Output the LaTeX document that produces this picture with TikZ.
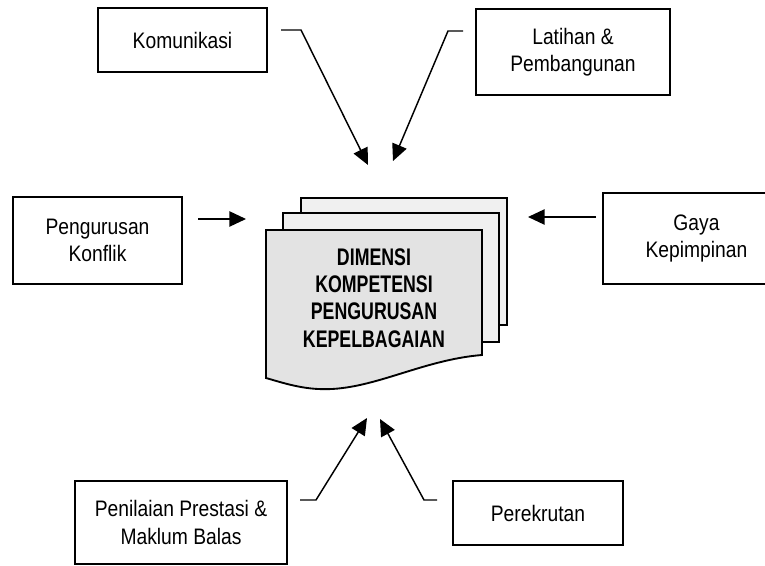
\documentclass[tikz,border=0pt]{standalone}
\usepackage{fontspec}
\setmainfont{Liberation Sans}
\newfontfamily\narrowfont[FakeStretch=0.86]{Liberation Sans}
\newfontfamily\mainnarrow[FakeStretch=0.74]{Liberation Sans}
\usetikzlibrary{arrows.meta}
\begin{document}
\begin{tikzpicture}[x=0.75pt,y=-0.75pt,
  box/.style={draw, line width=1.3pt, rectangle, inner sep=0pt, align=center,
              font=\narrowfont\fontsize{16.8}{20.3}\selectfont},
  conn/.style={line width=1.1pt, -{Triangle[length=12.5pt,width=11.5pt]}},
  backsheet/.style={draw, line width=1.4pt, fill=gray!12},
  frontsheet/.style={draw, line width=1.4pt, fill=gray!22},
  maintext/.style={align=center, inner sep=0pt,
              font=\mainnarrow\bfseries\fontsize{18}{20.5}\selectfont}]
\useasboundingbox (0,0) rectangle (765,566);
\clip (0,0) rectangle (765,566);

% boxes
\node[box, minimum width=126.75pt, minimum height=48pt] (kom) at (182.5,40) {Komunikasi};
\node[box, minimum width=145.5pt, minimum height=64.5pt] (lat) at (573,52) {Latihan \&\\Pembangunan};
\node[box, minimum width=126.75pt, minimum height=65.25pt] (kon) at (97.5,240.5) {Pengurusan\\Konflik};
\node[box, minimum width=140.25pt, minimum height=68.25pt] (gay) at (696.5,238.5) {Gaya\\Kepimpinan};
\node[box, minimum width=159pt, minimum height=62.25pt] (pen) at (181,522.5) {Penilaian Prestasi \&\\Maklum Balas};
\node[box, minimum width=127.5pt, minimum height=48pt] (per) at (538,513) {Perekrutan};

% document stack
\path[backsheet] (301,198) rectangle (507,325);
\path[backsheet] (283,213) rectangle (499,342);
\path[frontsheet] (266,230) -- (482,230) -- (482,355)
   .. controls (420,360) and (370,392) .. (318,389)
   .. controls (298,388) and (280,382) .. (266,378) -- cycle;
\node[maintext] (dim) at (374,298) {DIMENSI\\KOMPETENSI\\PENGURUSAN\\KEPELBAGAIAN};

% connector end points
\coordinate (a1) at (281,30);  \coordinate (a1b) at (301,30);  \coordinate (a1t) at (368,165);
\coordinate (a2) at (463,31);  \coordinate (a2b) at (448,31);  \coordinate (a2t) at (393,161);
\coordinate (a3) at (198,219); \coordinate (a3t) at (246,219);
\coordinate (a4) at (596,217); \coordinate (a4t) at (528,217);
\coordinate (a5) at (300,500); \coordinate (a5b) at (316,500); \coordinate (a5t) at (367,418);
\coordinate (a6) at (437,500); \coordinate (a6b) at (424,500); \coordinate (a6t) at (380,419);

\draw[conn] (a1) -- (a1b) -- (a1t);
\draw[conn] (a2) -- (a2b) -- (a2t);
\draw[conn] (a3) -- (a3t);
\draw[conn] (a4) -- (a4t);
\draw[conn] (a5) -- (a5b) -- (a5t);
\draw[conn] (a6) -- (a6b) -- (a6t);
\end{tikzpicture}
\end{document}
